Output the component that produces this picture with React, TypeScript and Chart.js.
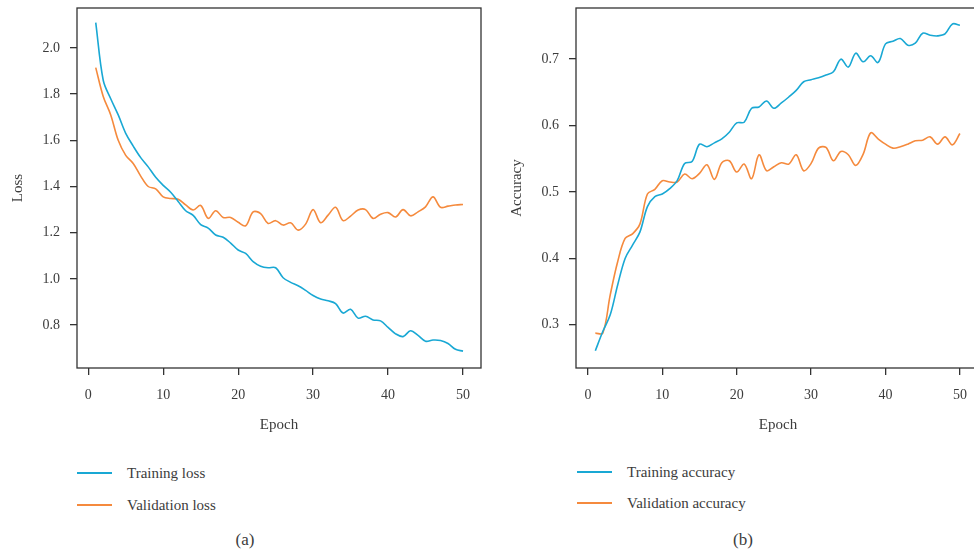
import React, { useEffect, useRef } from "react";
import { Chart, registerables } from "chart.js";

Chart.register(...registerables);

// ---------- data ----------
const EPOCHS = [
  1, 2, 3, 4, 5, 6, 7, 8, 9, 10, 11, 12, 13, 14, 15, 16, 17, 18, 19, 20, 21, 22, 23, 24, 25,
  26, 27, 28, 29, 30, 31, 32, 33, 34, 35, 36, 37, 38, 39, 40, 41, 42, 43, 44, 45, 46, 47, 48, 49, 50,
];

const TRAIN_LOSS = [
  2.11, 1.86, 1.78, 1.71, 1.63, 1.575, 1.525, 1.485, 1.44, 1.405,
  1.375, 1.335, 1.295, 1.275, 1.235, 1.22, 1.19, 1.18, 1.155, 1.125,
  1.11, 1.075, 1.055, 1.048, 1.048, 1.005, 0.985, 0.97, 0.95, 0.928,
  0.913, 0.905, 0.893, 0.852, 0.868, 0.83, 0.838, 0.822, 0.818, 0.79,
  0.762, 0.75, 0.775, 0.755, 0.73, 0.735, 0.733, 0.72, 0.695, 0.687,
];

const VAL_LOSS = [
  1.915, 1.79, 1.71, 1.6, 1.535, 1.5, 1.445, 1.4, 1.39, 1.355,
  1.348, 1.345, 1.32, 1.298, 1.318, 1.262, 1.295, 1.266, 1.266, 1.245,
  1.23, 1.29, 1.283, 1.24, 1.252, 1.233, 1.243, 1.211, 1.237, 1.3,
  1.243, 1.276, 1.31, 1.252, 1.272, 1.298, 1.3, 1.262, 1.28, 1.287,
  1.268, 1.3, 1.273, 1.29, 1.312, 1.355, 1.31, 1.315, 1.32, 1.322,
];

const TRAIN_ACC = [
  0.261, 0.29, 0.315, 0.36, 0.4, 0.42, 0.44, 0.478, 0.493, 0.497,
  0.505, 0.517, 0.543, 0.546, 0.572, 0.568, 0.574, 0.58, 0.59, 0.604,
  0.605, 0.626, 0.628, 0.637, 0.626, 0.634, 0.643, 0.653, 0.666, 0.669,
  0.672, 0.676, 0.681, 0.7, 0.688, 0.709, 0.696, 0.705, 0.695, 0.723,
  0.727, 0.731, 0.721, 0.724, 0.739, 0.736, 0.735, 0.738, 0.753, 0.751,
];

const VAL_ACC = [
  0.2875, 0.2875, 0.345, 0.395, 0.43, 0.437, 0.452, 0.497, 0.504, 0.517,
  0.515, 0.515, 0.527, 0.52, 0.528, 0.541, 0.519, 0.544, 0.547, 0.53,
  0.542, 0.52, 0.556, 0.532, 0.538, 0.544, 0.542, 0.556, 0.532, 0.543,
  0.566, 0.567, 0.547, 0.561, 0.556, 0.54, 0.557, 0.589, 0.58, 0.572,
  0.566, 0.568, 0.572, 0.577, 0.578, 0.583, 0.572, 0.583, 0.571, 0.588,
];

const X_TICKS = [0, 10, 20, 30, 40, 50];
const LOSS_TICKS = [0.8, 1.0, 1.2, 1.4, 1.6, 1.8, 2.0];
const ACC_TICKS = [0.3, 0.4, 0.5, 0.6, 0.7];

const BLUE = "#19a8d4";
const ORANGE = "#f58a3d";
const INK = "#333333";
const TEXT = "#3c3c3c";
const FONT = "'Liberation Serif', 'DejaVu Serif', serif";

const CANVAS_W = 490;
const CANVAS_H = 440;

const framePlugin = {
  id: "frame",
  afterDraw(chart: any) {
    const { ctx, chartArea: a } = chart;
    ctx.save();
    ctx.strokeStyle = INK;
    ctx.lineWidth = 1.3;
    ctx.strokeRect(a.left, a.top, a.right - a.left, a.bottom - a.top);
    ctx.restore();
  },
};

function makeConfig(
  train: number[],
  val: number[],
  yLabel: string,
  yTicks: number[],
  yMin: number,
  yMax: number,
  xMin: number,
  xMax: number,
  names: [string, string]
): any {
  return {
    type: "line",
    data: {
      datasets: [
        {
          label: names[0],
          data: EPOCHS.map((e, i) => ({ x: e, y: train[i] })),
          borderColor: BLUE,
          borderWidth: 1.6,
          pointRadius: 0,
          tension: 0.35,
          fill: false,
        },
        {
          label: names[1],
          data: EPOCHS.map((e, i) => ({ x: e, y: val[i] })),
          borderColor: ORANGE,
          borderWidth: 1.6,
          pointRadius: 0,
          tension: 0.35,
          fill: false,
        },
      ],
    },
    options: {
      responsive: false,
      animation: false,
      devicePixelRatio: 1,
      layout: { padding: { top: 8, right: 9, left: 0, bottom: 0 } },
      plugins: { legend: { display: false }, tooltip: { enabled: false } },
      scales: {
        x: {
          type: "linear",
          min: xMin,
          max: xMax,
          afterBuildTicks: (s: any) => {
            s.ticks = X_TICKS.map((v) => ({ value: v }));
          },
          afterFit: (s: any) => {
            s.height = 72;
            s.paddingLeft = 0;
            s.paddingRight = 0;
          },
          grid: { drawOnChartArea: false, drawTicks: true, tickLength: 7, color: INK, lineWidth: 1.3 },
          border: { display: false },
          ticks: {
            font: { family: FONT, size: 14 },
            color: TEXT,
            padding: 12,
            maxRotation: 0,
            callback: (v: any) => String(v),
          },
          title: {
            display: true,
            text: "Epoch",
            font: { family: FONT, size: 15 },
            color: TEXT,
            padding: { top: 0, bottom: 6 },
          },
        },
        y: {
          type: "linear",
          min: yMin,
          max: yMax,
          afterBuildTicks: (s: any) => {
            s.ticks = yTicks.map((v) => ({ value: v }));
          },
          afterFit: (s: any) => {
            s.width = 77;
            s.paddingTop = 0;
            s.paddingBottom = 0;
          },
          grid: { drawOnChartArea: false, drawTicks: true, tickLength: 7, color: INK, lineWidth: 1.3 },
          border: { display: false },
          ticks: {
            font: { family: FONT, size: 14 },
            color: TEXT,
            padding: 10,
            callback: (v: any) => Number(v).toFixed(1),
          },
          title: {
            display: true,
            text: yLabel,
            font: { family: FONT, size: 15 },
            color: TEXT,
            padding: { top: 9, bottom: 0 },
          },
        },
      },
    },
    plugins: [framePlugin],
  };
}

function ChartCanvas({ config, left }: { config: any; left: number }) {
  const ref = useRef<HTMLCanvasElement | null>(null);
  useEffect(() => {
    if (!ref.current) return;
    const chart = new Chart(ref.current, config);
    return () => chart.destroy();
  }, [config]);
  return (
    <canvas
      ref={ref}
      width={CANVAS_W}
      height={CANVAS_H}
      style={{ position: "absolute", left, top: 0, width: CANVAS_W, height: CANVAS_H }}
    />
  );
}

function LegendItem({ left, top, color, text }: { left: number; top: number; color: string; text: string }) {
  return (
    <div style={{ position: "absolute", left, top, height: 20, display: "flex", alignItems: "center" }}>
      <div style={{ width: 35, height: 2, background: color }} />
      <div
        style={{
          marginLeft: 15,
          fontFamily: FONT,
          fontSize: 15,
          color: TEXT,
          lineHeight: "20px",
          whiteSpace: "nowrap",
        }}
      >
        {text}
      </div>
    </div>
  );
}

const lossConfig = makeConfig(TRAIN_LOSS, VAL_LOSS, "Loss", LOSS_TICKS, 0.614, 2.173, -1.5, 52.4, [
  "Training loss",
  "Validation loss",
]);
const accConfig = makeConfig(TRAIN_ACC, VAL_ACC, "Accuracy", ACC_TICKS, 0.235, 0.777, -1.6, 52.7, [
  "Training accuracy",
  "Validation accuracy",
]);

export default function App() {
  return (
    <div
      style={{
        position: "fixed",
        left: 0,
        top: 0,
        width: 974,
        height: 556,
        overflow: "hidden",
        background: "#ffffff",
      }}
    >
      <ChartCanvas config={lossConfig} left={0} />
      <ChartCanvas config={accConfig} left={499} />

      <LegendItem left={77} top={463} color={BLUE} text="Training loss" />
      <LegendItem left={77} top={495} color={ORANGE} text="Validation loss" />
      <LegendItem left={577} top={462} color={BLUE} text="Training accuracy" />
      <LegendItem left={577} top={493} color={ORANGE} text="Validation accuracy" />

      <div
        style={{
          position: "absolute",
          left: 225,
          width: 40,
          top: 529,
          textAlign: "center",
          fontFamily: FONT,
          fontSize: 17,
          lineHeight: "22px",
          color: TEXT,
        }}
      >
        (a)
      </div>
      <div
        style={{
          position: "absolute",
          left: 723,
          width: 40,
          top: 529,
          textAlign: "center",
          fontFamily: FONT,
          fontSize: 17,
          lineHeight: "22px",
          color: TEXT,
        }}
      >
        (b)
      </div>
    </div>
  );
}
